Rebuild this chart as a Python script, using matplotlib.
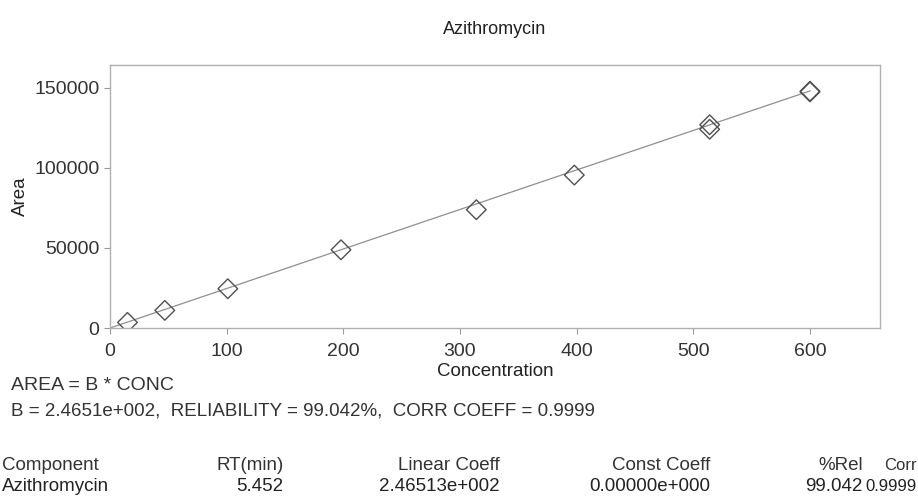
import matplotlib.pyplot as plt

plt.rcParams['font.family'] = ['Liberation Sans', 'DejaVu Sans']

# calibration points
conc = [15, 47, 101, 198, 314, 398, 514, 514, 600, 600]
area = [3500, 11000, 24500, 48800, 73800, 95400, 126800, 124000, 147300, 147700]

slope = 246.513
fit_x = [0, 600]
fit_y = [slope * v for v in fit_x]

xticks = [0, 100, 200, 300, 400, 500, 600]
yticks = [0, 50000, 100000, 150000]

header = ["Component", "RT(min)", "Linear Coeff", "Const Coeff", "%Rel", "Corr"]
row = ["Azithromycin", "5.452", "2.46513e+002", "0.00000e+000", "99.042", "0.9999"]

fig = plt.figure(figsize=(9.18, 4.97), dpi=100)
ax = fig.add_axes([0.1198, 0.340, 0.8388, 0.529])

ax.plot(fit_x, fit_y, color='#8f8f8f', lw=0.9, zorder=1)
ax.scatter(conc, area, marker='D', s=100, facecolors='none', edgecolors='#505050',
           linewidths=1.0, zorder=2)

ax.set_xlim(0, 660)
ax.set_ylim(0, 164000)
ax.set_xticks(xticks)
ax.set_yticks(yticks)
ax.tick_params(labelsize=14, colors='#9a9a9a', labelcolor='#333333', length=4)
ax.tick_params(axis='x', pad=7)
for s in ax.spines.values():
    s.set_color('#b0b0b0')
    s.set_linewidth(1.0)

ax.set_xlabel("Concentration", fontsize=13.5, color='#222222', labelpad=2)
ax.set_ylabel("Area", fontsize=13.5, color='#222222', labelpad=4)
fig.text(0.539, 0.94, "Azithromycin", fontsize=13, ha='center', va='center', color='#222222')

fig.text(0.012, 0.224, "AREA = B * CONC", fontsize=14, va='center', color='#333333')
fig.text(0.012, 0.174, "B = 2.4651e+002,  RELIABILITY = 99.042%,  CORR COEFF = 0.9999",
         fontsize=13.5, va='center', color='#333333')

# results table, right-aligned columns except the first
col_x = [0.002, 0.309, 0.544, 0.774, 0.94, 0.999]
col_ha = ['left', 'right', 'right', 'right', 'right', 'right']
col_fs = [13.5, 13.5, 13.5, 13.5, 13.5, 12]
for i in range(len(header)):
    fig.text(col_x[i], 0.064, header[i], fontsize=col_fs[i], ha=col_ha[i], va='center', color='#333333')
    fig.text(col_x[i], 0.022, row[i], fontsize=col_fs[i], ha=col_ha[i], va='center', color='#222222')

fig.savefig("out.png", dpi=100)
